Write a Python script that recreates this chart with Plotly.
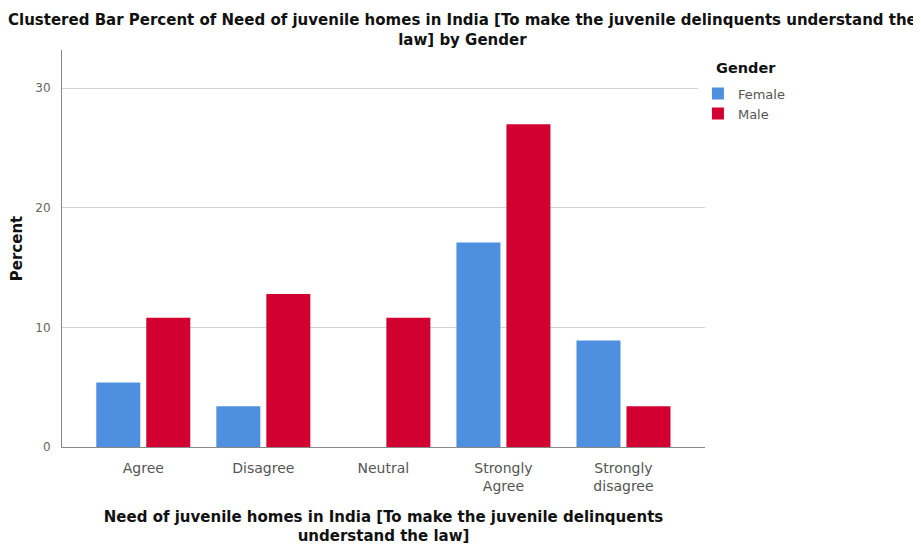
import plotly.graph_objects as go

categories = ["Agree", "Disagree", "Neutral", "Strongly<br>Agree", "Strongly<br>disagree"]
female = [5.4, 3.4, 0, 17.1, 8.9]
male = [10.8, 12.8, 10.8, 27.0, 3.4]

FONT = "DejaVu Sans, Liberation Sans, Arial, sans-serif"

fig = go.Figure()
fig.add_trace(go.Bar(name="Female", x=categories, y=female, marker=dict(color="#4f8fe0", line=dict(width=0))))
fig.add_trace(go.Bar(name="Male", x=categories, y=male, marker=dict(color="#d20030", line=dict(width=0))))

fig.update_layout(
    width=913, height=537,
    paper_bgcolor="white", plot_bgcolor="white",
    margin=dict(l=54, r=216, t=42, b=98, autoexpand=False),
    barmode="group", bargap=0.167, bargroupgap=0.12,
    font=dict(family=FONT, color="#222"),
    xaxis=dict(
        range=[-0.677, 4.679], showline=True, linecolor="#888", linewidth=1,
        tickfont=dict(size=14, color="#555"), ticks="", ticklabelstandoff=8, automargin=False,
        title=dict(text="<b>Need of juvenile homes in India [To make the juvenile delinquents<br>understand the law]</b>",
                   font=dict(size=15, color="#111"), standoff=28),
    ),
    yaxis=dict(
        range=[0, 33.2], tickvals=[0, 10, 20, 30], showline=True, linecolor="#888", linewidth=1,
        gridcolor="#d4d4d4", gridwidth=1, zeroline=False, automargin=False,
        tickfont=dict(size=12, color="#666"), ticks="", ticklabelstandoff=8,
        title=dict(text="<b>Percent</b>", font=dict(size=15, color="#111"), standoff=13),
    ),
    legend=dict(
        x=0.989, xanchor="left", y=0.928, yanchor="top",
        font=dict(size=13, color="#555"), itemwidth=30, tracegroupgap=0,
    ),
    annotations=[
        dict(text="<b>Clustered Bar Percent of Need of juvenile homes in India [To make the juvenile delinquents understand the<br>law] by Gender</b>",
             xref="paper", yref="paper", x=0.6236, y=0.998, xanchor="center", yanchor="bottom",
             showarrow=False, font=dict(size=15, color="#111")),
        dict(text="<b>Gender</b>", xref="paper", yref="paper", x=1.014, y=0.955,
             xanchor="left", yanchor="middle", showarrow=False, font=dict(size=14.5, color="#111")),
    ],
)

fig.write_html("out.html")
